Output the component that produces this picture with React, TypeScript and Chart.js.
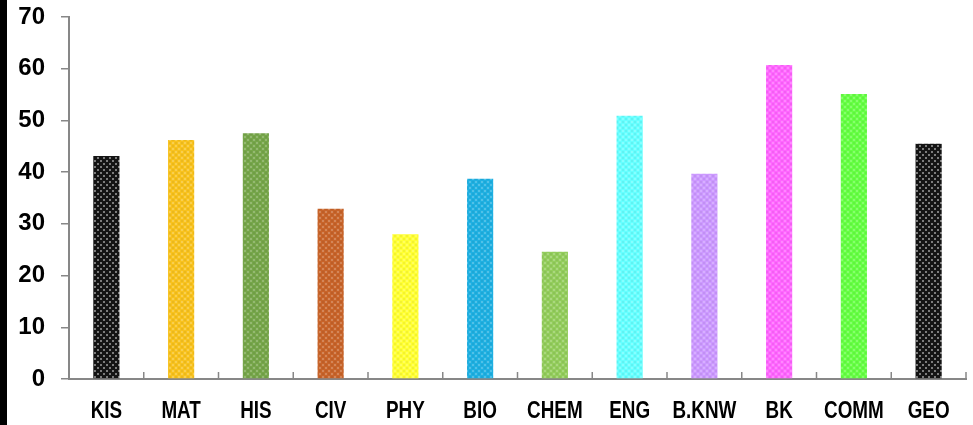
import React, { useEffect, useRef } from "react";
import { Chart, registerables } from "chart.js";

Chart.register(...registerables);

const categories = ["KIS", "MAT", "HIS", "CIV", "PHY", "BIO", "CHEM", "ENG", "B.KNW", "BK", "COMM", "GEO"];
const values = [43.1, 46.2, 47.5, 32.9, 28.0, 38.7, 24.6, 50.9, 39.7, 60.7, 55.1, 45.5];
const barColors = ["#141414", "#f8c21e", "#76a64a", "#c8642a", "#ffff33", "#1fb0e2", "#93cd5c", "#66ffff", "#cc99ff", "#ff66ff", "#66ff44", "#141414"];
const yTicks = [0, 10, 20, 30, 40, 50, 60, 70];

function makePattern(color: string): CanvasPattern | string {
  const c = document.createElement("canvas");
  c.width = 6;
  c.height = 6;
  const ctx = c.getContext("2d");
  if (!ctx) return color;
  ctx.fillStyle = color;
  ctx.fillRect(0, 0, 6, 6);
  const dark = color === "#141414";
  ctx.fillStyle = dark ? "rgba(150,150,150,0.8)" : "rgba(255,255,255,0.22)";
  ctx.fillRect(1, 1, 2, 2);
  ctx.fillRect(4, 4, 2, 2);
  if (!dark) {
    ctx.fillStyle = "rgba(0,0,0,0.05)";
    ctx.fillRect(4, 1, 2, 2);
    ctx.fillRect(1, 4, 2, 2);
  }
  const p = ctx.createPattern(c, "repeat");
  return p || color;
}

const axisDecor = {
  id: "axisDecor",
  afterDraw(chart: any) {
    const x = chart.scales.x;
    const ctx = chart.ctx;
    const bottom = chart.chartArea.bottom;
    ctx.save();
    ctx.strokeStyle = "#878787";
    ctx.lineWidth = 1.5;
    const step = x.getPixelForValue(1) - x.getPixelForValue(0);
    for (let i = 1; i <= categories.length; i++) {
      const px = i < categories.length ? x.getPixelForValue(i) - step / 2 : x.right;
      ctx.beginPath();
      ctx.moveTo(px, bottom);
      ctx.lineTo(px, bottom - 7);
      ctx.stroke();
    }
    ctx.fillStyle = "#000";
    ctx.font = "bold 23px 'Liberation Sans', Arial, sans-serif";
    ctx.textAlign = "center";
    ctx.textBaseline = "alphabetic";
    categories.forEach((label, i) => {
      const px = x.getPixelForValue(i);
      ctx.save();
      ctx.translate(px, bottom + 39);
      ctx.scale(0.82, 1);
      ctx.fillText(label, 0, 0);
      ctx.restore();
    });
    ctx.restore();
  },
};

export default function App() {
  const ref = useRef<HTMLCanvasElement>(null);
  useEffect(() => {
    if (!ref.current) return;
    const chart = new Chart(ref.current, {
      type: "bar",
      data: {
        labels: categories,
        datasets: [
          {
            data: values,
            backgroundColor: barColors.map((c) => makePattern(c)) as any,
            borderWidth: 0,
            barPercentage: 0.35,
            categoryPercentage: 1,
          },
        ],
      },
      options: {
        animation: false,
        responsive: true,
        maintainAspectRatio: false,
        layout: { padding: { left: 0, right: 7, top: 17, bottom: 0 } },
        plugins: { legend: { display: false }, tooltip: { enabled: false } },
        scales: {
          x: {
            grid: { display: false },
            border: { display: true, color: "#878787", width: 2 },
            ticks: { display: false },
            afterFit: (s: any) => {
              s.height = 46;
              s.paddingLeft = 0;
              s.paddingRight = 0;
            },
          },
          y: {
            min: 0,
            max: 70,
            afterBuildTicks: (s: any) => {
              s.ticks = yTicks.map((v) => ({ value: v }));
            },
            grid: { drawOnChartArea: false, drawTicks: true, tickLength: 8, color: "#878787", lineWidth: 1.5 },
            border: { display: true, color: "#878787", width: 2 },
            ticks: {
              color: "#000",
              font: { family: "'Liberation Sans', Arial, sans-serif", size: 24, weight: "bold" },
              padding: 16,
            },
            afterFit: (s: any) => {
              s.width = 69;
              s.paddingTop = 0;
              s.paddingBottom = 0;
            },
          },
        },
      },
      plugins: [axisDecor],
    });
    return () => chart.destroy();
  }, []);
  return (
    <>
      <div style={{ position: "fixed", left: 0, top: 0, width: 7, height: 425, background: "#000" }} />
      <div style={{ position: "fixed", left: 0, top: 0, width: 973, height: 425, background: "transparent" }}>
        <canvas ref={ref} />
      </div>
    </>
  );
}
